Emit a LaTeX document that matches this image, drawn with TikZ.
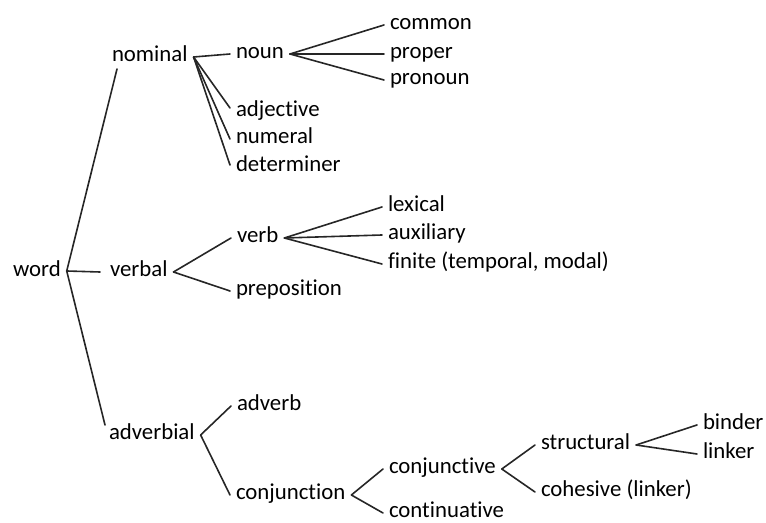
\documentclass[tikz,border=0pt]{standalone}
\usepackage{fontspec}
\setmainfont{Carlito}[Ligatures={NoCommon}]
\usetikzlibrary{calc}
\begin{document}
\begin{tikzpicture}[x=0.5pt,y=-0.5pt,
  lbl/.style={anchor=mid west, inner xsep=3pt, inner ysep=0pt, outer sep=0pt,
              xshift=-3pt, yshift=-1pt, font=\fontsize{11.4}{13}\selectfont},
  edge/.style={line width=0.8pt, draw=black!85, line cap=round}]
\useasboundingbox (0,0) rectangle (766,523);

% labels
\node[lbl] (word)         at (13,270)  {word};
\node[lbl] (nominal)      at (112,55)  {nominal};
\node[lbl] (verbal)       at (110,270) {verbal};
\node[lbl] (adverbial)    at (109,433) {adverbial};
\node[lbl] (noun)         at (236,52)  {noun};
\node[lbl] (adjective)    at (236,110) {adjective};
\node[lbl] (numeral)      at (236,137) {numeral};
\node[lbl] (determiner)   at (236,165) {determiner};
\node[lbl] (common)       at (390,23)  {common};
\node[lbl] (proper)       at (390,52)  {proper};
\node[lbl] (pronoun)      at (390,78)  {pronoun};
\node[lbl] (verb)         at (237,236) {verb};
\node[lbl] (preposition)  at (236,289) {preposition};
\node[lbl] (lexical)      at (388,205) {lexical};
\node[lbl] (auxiliary)    at (388,233) {auxiliary};
\node[lbl] (finite)       at (388,262) {finite (temporal, modal)};
\node[lbl] (adverb)       at (237,404) {adverb};
\node[lbl] (conjunction)  at (236,493) {conjunction};
\node[lbl] (conjunctive)  at (389,467) {conjunctive};
\node[lbl] (continuative) at (389,511) {continuative};
\node[lbl] (structural)   at (541,443) {structural};
\node[lbl] (cohesive)     at (541,490) {cohesive (linker)};
\node[lbl] (binder)       at (703,423) {binder};
\node[lbl] (linker)       at (703,452) {linker};

% root fan
\coordinate (root) at ($(word.mid east)+(0,-1)$);
\draw[edge] (root) -- ($(nominal.mid west)+(11,12)$);
\draw[edge] (root) -- ($(verbal.mid west)+(-4,0)$);
\draw[edge] (root) -- ($(adverbial.mid west)+(2,-10)$);

% nominal branch
\draw[edge] (nominal.mid east) -- (noun.mid west);
\draw[edge] (nominal.mid east) -- ($(adjective.mid west)+(0,-4)$);
\draw[edge] (nominal.mid east) -- (numeral.mid west);
\draw[edge] (nominal.mid east) -- ($(determiner.mid west)+(0,-2)$);
\draw[edge] (noun.mid east) -- (common.mid west);
\draw[edge] (noun.mid east) -- (proper.mid west);
\draw[edge] (noun.mid east) -- (pronoun.mid west);

% verbal branch
\draw[edge] (verbal.mid east) -- (verb.mid west);
\draw[edge] (verbal.mid east) -- (preposition.mid west);
\draw[edge] (verb.mid east) -- (lexical.mid west);
\draw[edge] (verb.mid east) -- (auxiliary.mid west);
\draw[edge] (verb.mid east) -- (finite.mid west);

% adverbial branch
\draw[edge] (adverbial.mid east) -- (adverb.mid west);
\draw[edge] (adverbial.mid east) -- (conjunction.mid west);
\draw[edge] (conjunction.mid east) -- (conjunctive.mid west);
\draw[edge] (conjunction.mid east) -- (continuative.mid west);
\draw[edge] (conjunctive.mid east) -- (structural.mid west);
\draw[edge] (conjunctive.mid east) -- (cohesive.mid west);
\draw[edge] (structural.mid east) -- (binder.mid west);
\draw[edge] (structural.mid east) -- (linker.mid west);
\end{tikzpicture}
\end{document}
